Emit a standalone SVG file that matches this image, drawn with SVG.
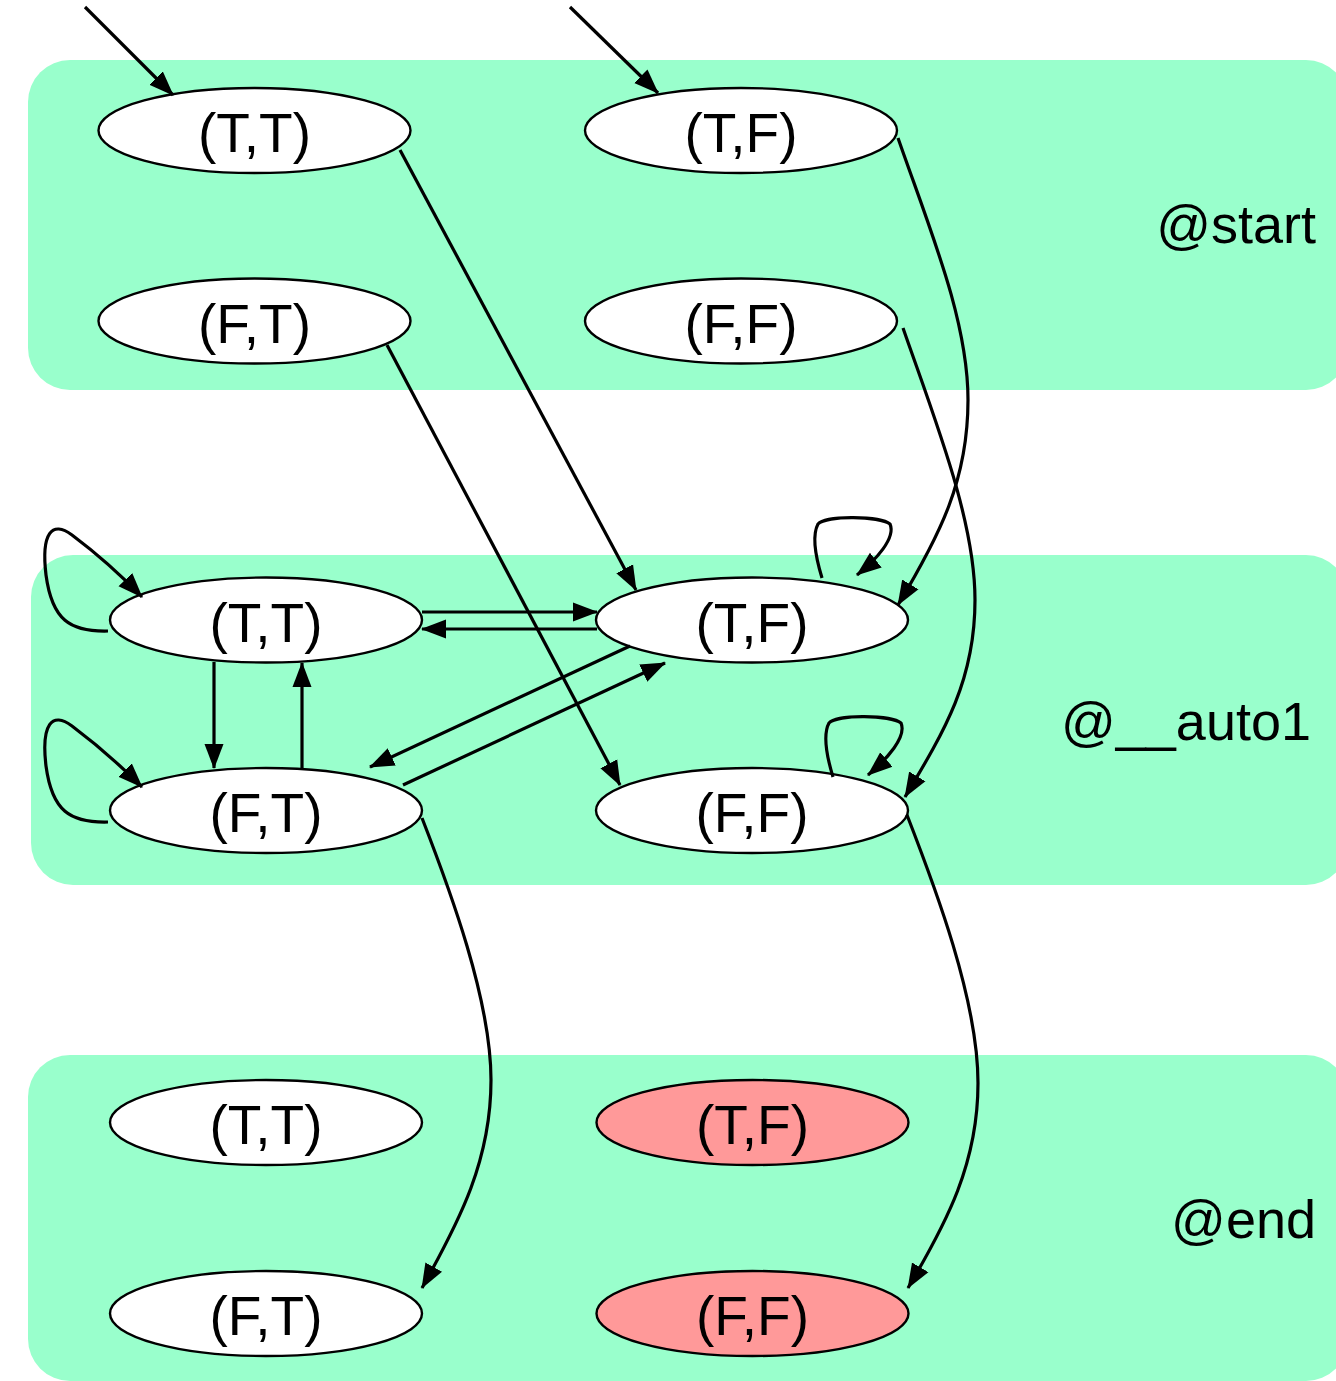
<svg xmlns="http://www.w3.org/2000/svg" width="1336" height="1381" viewBox="0 0 1336 1381">
  <style>
    .cluster { fill: #99FFCC; stroke: none; }
    .state { fill: #FFFFFF; stroke: #000; stroke-width: 2.4; }
    .bad { fill: #FF9999; }
    .lbl { font-family: "Liberation Sans", Arial, sans-serif; font-size: 55px; fill: #000; text-anchor: middle; }
    .clbl { font-family: "Liberation Sans", Arial, sans-serif; font-size: 54px; fill: #000; text-anchor: end; }
    .edge { fill: none; stroke: #000; stroke-width: 3.2; marker-end: url(#arr); }
  </style>
  <defs>
    <marker id="arr" markerUnits="userSpaceOnUse" markerWidth="26" markerHeight="22" viewBox="0 0 26 22" refX="24" refY="11" orient="auto">
      <path d="M0,1.5 L25,11 L0,20.5 Z" fill="#000"/>
    </marker>
  </defs>

  <rect width="1336" height="1381" fill="#FFFFFF"/>

  <!-- time-step clusters -->
  <g id="cluster-start">
    <rect class="cluster" x="28" y="60" width="1320" height="330" rx="42"/>
    <text class="clbl" x="1316" y="243">@start</text>
  </g>
  <g id="cluster-auto1">
    <rect class="cluster" x="31" y="555" width="1317" height="330" rx="42"/>
    <text class="clbl" x="1311" y="740">@__auto1</text>
  </g>
  <g id="cluster-end">
    <rect class="cluster" x="28" y="1055" width="1320" height="326" rx="42"/>
    <text class="clbl" x="1316" y="1238">@end</text>
  </g>

  <!-- states: @start -->
  <g id="start-TT"><ellipse class="state" cx="254.5" cy="130.5" rx="156" ry="42.5"/><text class="lbl" x="254.5" y="152">(T,T)</text></g>
  <g id="start-TF"><ellipse class="state" cx="741" cy="130.5" rx="156" ry="42.5"/><text class="lbl" x="741" y="152">(T,F)</text></g>
  <g id="start-FT"><ellipse class="state" cx="254.5" cy="321" rx="156" ry="42.5"/><text class="lbl" x="254.5" y="342.5">(F,T)</text></g>
  <g id="start-FF"><ellipse class="state" cx="741" cy="321" rx="156" ry="42.5"/><text class="lbl" x="741" y="342.5">(F,F)</text></g>

  <!-- states: @__auto1 -->
  <g id="auto1-TT"><ellipse class="state" cx="266" cy="620" rx="156" ry="42.5"/><text class="lbl" x="266" y="641.5">(T,T)</text></g>
  <g id="auto1-TF"><ellipse class="state" cx="752" cy="620" rx="156" ry="42.5"/><text class="lbl" x="752" y="641.5">(T,F)</text></g>
  <g id="auto1-FT"><ellipse class="state" cx="266" cy="810.5" rx="156" ry="42.5"/><text class="lbl" x="266" y="832">(F,T)</text></g>
  <g id="auto1-FF"><ellipse class="state" cx="752" cy="810.5" rx="156" ry="42.5"/><text class="lbl" x="752" y="832">(F,F)</text></g>

  <!-- states: @end -->
  <g id="end-TT"><ellipse class="state" cx="266" cy="1122.5" rx="156" ry="42.5"/><text class="lbl" x="266" y="1144">(T,T)</text></g>
  <g id="end-TF"><ellipse class="state bad" cx="752.5" cy="1122.5" rx="156" ry="42.5"/><text class="lbl" x="752.5" y="1144">(T,F)</text></g>
  <g id="end-FT"><ellipse class="state" cx="266" cy="1313.5" rx="156" ry="42.5"/><text class="lbl" x="266" y="1335">(F,T)</text></g>
  <g id="end-FF"><ellipse class="state bad" cx="752.5" cy="1313.5" rx="156" ry="42.5"/><text class="lbl" x="752.5" y="1335">(F,F)</text></g>

  <!-- transitions -->
  <g id="edges">
    <!-- initial states -->
    <path class="edge" d="M85,7 L173,95"/>
    <path class="edge" d="M570,7 L658,93"/>

    <!-- @start to @__auto1 -->
    <path class="edge" d="M400,150 L636,590"/>
    <path class="edge" d="M387,345 L620,785"/>
    <path class="edge" d="M898,138 C930,230 968,320 968,400 C968,480 940,535 898,605"/>
    <path class="edge" d="M903,328 C935,420 975,520 975,600 C975,680 945,730 905,797"/>

    <!-- within @__auto1 -->
    <path class="edge" d="M422,612 L597,612"/>
    <path class="edge" d="M597,629 L422,629"/>
    <path class="edge" d="M214,662 L214,768"/>
    <path class="edge" d="M302,768 L302,663"/>
    <path class="edge" d="M630,646 L370,767"/>
    <path class="edge" d="M403,785 L665,663"/>

    <!-- self loops -->
    <path class="edge" d="M108,631 C70,632 52,620 46,575 C41,533 52,520 72,535 C92,550 118,572 142,597"/>
    <path class="edge" d="M108,822 C70,823 52,811 46,766 C41,724 52,711 72,726 C92,741 118,763 142,787"/>
    <path class="edge" d="M822,578 C815,555 812,535 818,524 C826,515 880,516 890,524 C896,538 876,560 857,575"/>
    <path class="edge" d="M833,777 C826,754 823,734 829,723 C837,714 891,715 901,723 C907,737 887,759 868,775"/>

    <!-- @__auto1 to @end -->
    <path class="edge" d="M422,818 C450,890 491,1000 491,1080 C491,1160 460,1220 422,1288"/>
    <path class="edge" d="M907,815 C935,887 978,1000 978,1083 C978,1163 947,1222 908,1288"/>
  </g>
</svg>
